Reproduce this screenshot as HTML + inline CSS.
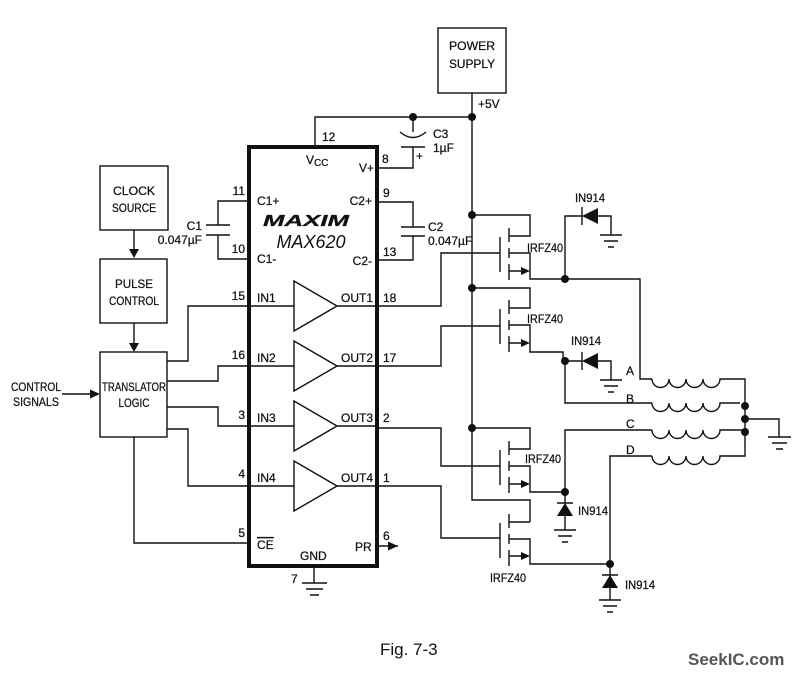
<!DOCTYPE html>
<html><head><meta charset="utf-8"><style>
html,body{margin:0;padding:0;background:#fff;}
svg{display:block}
text{font-family:"Liberation Sans Narrow","Liberation Sans",sans-serif;font-size:12px;fill:#111;stroke:#111;stroke-width:0.25;}
</style></head><body>
<svg width="812" height="676" viewBox="0 0 812 676" xmlns="http://www.w3.org/2000/svg">
<g stroke="#111" stroke-width="1.4" fill="none">
<rect x="438" y="28" width="68" height="65"/>
<rect x="100" y="166" width="68" height="64"/>
<rect x="100" y="259" width="67" height="64"/>
<rect x="100" y="352" width="67" height="85"/>
<rect x="249" y="147" width="128" height="419" stroke-width="4"/>
<path d="M134 230V250M134 323V344M62 394H92M134 437V543H249M377 546H398"/>
<path d="M472 93V500H530V522M315 147V117H472"/>
<path d="M413 117V132M400 132Q413 143 426 132M401 147H425M413 147V168H377"/>
<path d="M249 201H218V225M206 225H230M206 235H230M218 235V259H249"/>
<path d="M377 202H413V227M401 227H425M401 236H425M413 236V260H377"/>
<path d="M294 281L337 306L294 331Z M294 341L337 366L294 391Z M294 401L337 426L294 451Z M294 461L337 486L294 511Z"/>
<path d="M249 306H294M249 366H294M249 426H294M249 486H294M337 306H377M337 366H377M337 426H377M337 486H377"/>
<path d="M167 361H188V306H249M167 381H218V366H249M167 407H218V426H249M167 429H188V486H249"/>
<path d="M377 306H441V253H500M377 366H441V326H500M377 428H441V466H500M377 486H441V538H500"/>
<path d="M314 566V583M302 583H327M306 589H323M310 595H319"/>
</g>
<g stroke="#111" stroke-width="1.4" fill="none">
<path d="M472 215H530V236H509M509 253H530V279H565M500 237V272M509 228V242M509 248V258M509 264V280"/>
<path d="M472 288H530V308H509M509 325H530V352H563V361M500 309V344M509 300V314M509 320V330M509 336V352"/>
<path d="M472 428H530V449H509M509 466H530V492H565M500 450V485M509 441V455M509 461V471M509 477V493"/>
<path d="M509 539H530V564H610M500 523V558M509 514V528M509 534V544M509 550V566M530 522H509"/>
<path d="M509 271H524M509 343H524M509 484H524M509 556H524"/>
</g>
<g fill="#111">
<path d="M530 271l-9-4v8z M530 343l-9-4v8z M530 484l-9-4v8z M530 556l-9-4v8z"/>
<path d="M398 546l-10-4.5v9z M134 258l-5-9h10z M134 352l-5-9h10z M100 394l-10-4.5v9z"/>
<circle cx="413" cy="117" r="4"/><circle cx="472" cy="117" r="4"/>
<circle cx="472" cy="215" r="4"/><circle cx="472" cy="288" r="4"/><circle cx="472" cy="428" r="4"/>
<circle cx="565" cy="279" r="4"/><circle cx="565" cy="361" r="4"/><circle cx="565" cy="492" r="4"/><circle cx="610" cy="564" r="4"/>
<circle cx="745" cy="406" r="4"/><circle cx="745" cy="419" r="4"/><circle cx="745" cy="432" r="4"/>
<path d="M582 216l16-8v16z M582 361l16-8v16z M565 503l-8 13h16z M610 575l-8 13h16z"/>
</g>
<g stroke="#111" stroke-width="1.4" fill="none">
<path d="M565 279V216H582M582 207V225M598 216H611V235M600 235H622M604 241H618M608 247H614"/>
<path d="M565 361H582M582 352V370M598 361H611V380M600 380H622M604 386H618M608 392H614M565 361V403H652"/>
<path d="M565 492V530M557 503H573M554 530H576M558 536H572M562 542H568M565 492V430H652"/>
<path d="M610 564V600M602 575H618M599 600H621M603 606H617M607 612H613M610 564V456H652"/>
<path d="M565 279H640V379H652"/>
<path d="M652 379a8.5 8.5 0 0 0 17 0a8.5 8.5 0 0 0 17 0a8.5 8.5 0 0 0 17 0a8.5 8.5 0 0 0 17 0H745V432"/>
<path d="M652 403a8.5 8.5 0 0 0 17 0a8.5 8.5 0 0 0 17 0a8.5 8.5 0 0 0 17 0a8.5 8.5 0 0 0 17 0H740"/>
<path d="M652 430a8.5 8.5 0 0 0 17 0a8.5 8.5 0 0 0 17 0a8.5 8.5 0 0 0 17 0a8.5 8.5 0 0 0 17 0H745"/>
<path d="M652 456a8.5 8.5 0 0 0 17 0a8.5 8.5 0 0 0 17 0a8.5 8.5 0 0 0 17 0a8.5 8.5 0 0 0 17 0H745V432"/>
<path d="M745 419H779V437M768 437H791M772 443H787M776 449H783"/>
</g>
<text x="472" y="50" text-anchor="middle" textLength="46" lengthAdjust="spacingAndGlyphs">POWER</text>
<text x="472" y="68" text-anchor="middle" textLength="46" lengthAdjust="spacingAndGlyphs">SUPPLY</text>
<text x="478" y="108">+5V</text>
<text x="134" y="195" text-anchor="middle" textLength="42" lengthAdjust="spacingAndGlyphs">CLOCK</text>
<text x="134" y="212" text-anchor="middle" textLength="44" lengthAdjust="spacingAndGlyphs">SOURCE</text>
<text x="134" y="288" text-anchor="middle" textLength="38" lengthAdjust="spacingAndGlyphs">PULSE</text>
<text x="134" y="305" text-anchor="middle" textLength="50" lengthAdjust="spacingAndGlyphs">CONTROL</text>
<text x="134" y="391" text-anchor="middle" textLength="64" lengthAdjust="spacingAndGlyphs">TRANSLATOR</text>
<text x="134" y="407" text-anchor="middle" textLength="31" lengthAdjust="spacingAndGlyphs">LOGIC</text>
<text x="36" y="391" text-anchor="middle" textLength="50" lengthAdjust="spacingAndGlyphs">CONTROL</text>
<text x="36" y="406" text-anchor="middle" textLength="46" lengthAdjust="spacingAndGlyphs">SIGNALS</text>
<text x="322" y="141">12</text>
<text x="306" y="164">V<tspan font-size="10" dy="2">CC</tspan></text>
<text x="359" y="172">V+</text><text x="382" y="163">8</text>
<text x="433" y="138">C3</text><text x="433" y="152">1µF</text><text x="416" y="160">+</text>
<text x="245" y="195" text-anchor="end">11</text><text x="257" y="205">C1+</text>
<text x="245" y="253" text-anchor="end">10</text><text x="257" y="263">C1-</text>
<text x="202" y="230" text-anchor="end">C1</text><text x="202" y="244" text-anchor="end">0.047µF</text>
<text x="383" y="197">9</text><text x="372" y="205" text-anchor="end">C2+</text>
<text x="383" y="256">13</text><text x="372" y="265" text-anchor="end">C2-</text>
<text x="428" y="231">C2</text><text x="428" y="245">0.047µF</text>
<text x="306" y="226" text-anchor="middle" textLength="86" lengthAdjust="spacingAndGlyphs" style="font-size:16px;font-weight:900;font-style:italic">MAXIM</text>
<text x="311" y="248" text-anchor="middle" style="font-size:18px;font-style:italic;font-family:'Liberation Sans',sans-serif;stroke-width:0">MAX620</text>
<text x="245" y="300" text-anchor="end">15</text><text x="257" y="302">IN1</text>
<text x="245" y="359" text-anchor="end">16</text><text x="257" y="362">IN2</text>
<text x="245" y="419" text-anchor="end">3</text><text x="257" y="422">IN3</text>
<text x="245" y="478" text-anchor="end">4</text><text x="257" y="482">IN4</text>
<text x="245" y="537" text-anchor="end">5</text><text x="257" y="549" text-decoration="overline">CE</text>
<text x="373" y="302" text-anchor="end">OUT1</text><text x="383" y="302">18</text>
<text x="373" y="362" text-anchor="end">OUT2</text><text x="383" y="362">17</text>
<text x="373" y="422" text-anchor="end">OUT3</text><text x="383" y="422">2</text>
<text x="373" y="482" text-anchor="end">OUT4</text><text x="383" y="482">1</text>
<text x="355" y="551">PR</text><text x="383" y="540">6</text>
<text x="300" y="560">GND</text><text x="291" y="583">7</text>
<text x="527" y="252" textLength="36" lengthAdjust="spacingAndGlyphs">IRFZ40</text>
<text x="527" y="323" textLength="36" lengthAdjust="spacingAndGlyphs">IRFZ40</text>
<text x="525" y="463" textLength="36" lengthAdjust="spacingAndGlyphs">IRFZ40</text>
<text x="490" y="582" textLength="36" lengthAdjust="spacingAndGlyphs">IRFZ40</text>
<text x="575" y="202" textLength="30" lengthAdjust="spacingAndGlyphs">IN914</text>
<text x="571" y="345" textLength="30" lengthAdjust="spacingAndGlyphs">IN914</text>
<text x="578" y="515" textLength="30" lengthAdjust="spacingAndGlyphs">IN914</text>
<text x="625" y="589" textLength="30" lengthAdjust="spacingAndGlyphs">IN914</text>
<text x="626" y="375">A</text><text x="626" y="403">B</text>
<text x="626" y="428">C</text><text x="626" y="454">D</text>
<text x="380" y="655" style="font-family:'Liberation Sans',sans-serif;font-size:17px;stroke-width:0">Fig. 7-3</text>
<text x="688" y="665" style="font-family:'Liberation Sans',sans-serif;font-size:17px;font-weight:bold;fill:#555;stroke:none">SeekIC.com</text>
</svg>
</body></html>
